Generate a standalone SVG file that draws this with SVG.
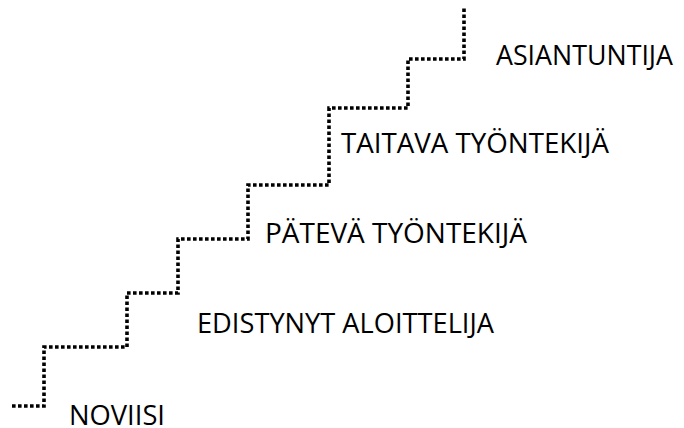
<svg xmlns="http://www.w3.org/2000/svg" width="684" height="428" viewBox="0 0 684 428">
  <style>
    .stair { fill: none; stroke: #000; stroke-width: 3.6; stroke-dasharray: 3.6 2.4; stroke-linecap: butt; stroke-linejoin: miter; }
    .lbl { font-family: "Open Sans", "Noto Sans", "Liberation Sans", sans-serif; font-size: 28px; fill: #000; }
  </style>
  <rect width="684" height="428" fill="#fff"/>
  <g id="connectors">
    <path class="stair" d="M12,406 H44 V347 H127 V293 H178 V239 H248 V185 H329 V108 H408 V59 H464 V8"/>
  </g>
  <g id="noviisi"><text class="lbl" x="69" y="425" textLength="96" lengthAdjust="spacingAndGlyphs">NOVIISI</text></g>
  <g id="edistynyt-aloittelija"><text class="lbl" x="197" y="333" textLength="297" lengthAdjust="spacingAndGlyphs">EDISTYNYT ALOITTELIJA</text></g>
  <g id="pateva-tyontekija"><text class="lbl" x="265" y="243" textLength="262" lengthAdjust="spacingAndGlyphs">PÄTEVÄ TYÖNTEKIJÄ</text></g>
  <g id="taitava-tyontekija"><text class="lbl" x="341" y="153" textLength="268" lengthAdjust="spacingAndGlyphs">TAITAVA TYÖNTEKIJÄ</text></g>
  <g id="asiantuntija"><text class="lbl" x="496" y="65" textLength="177" lengthAdjust="spacingAndGlyphs">ASIANTUNTIJA</text></g>
</svg>
